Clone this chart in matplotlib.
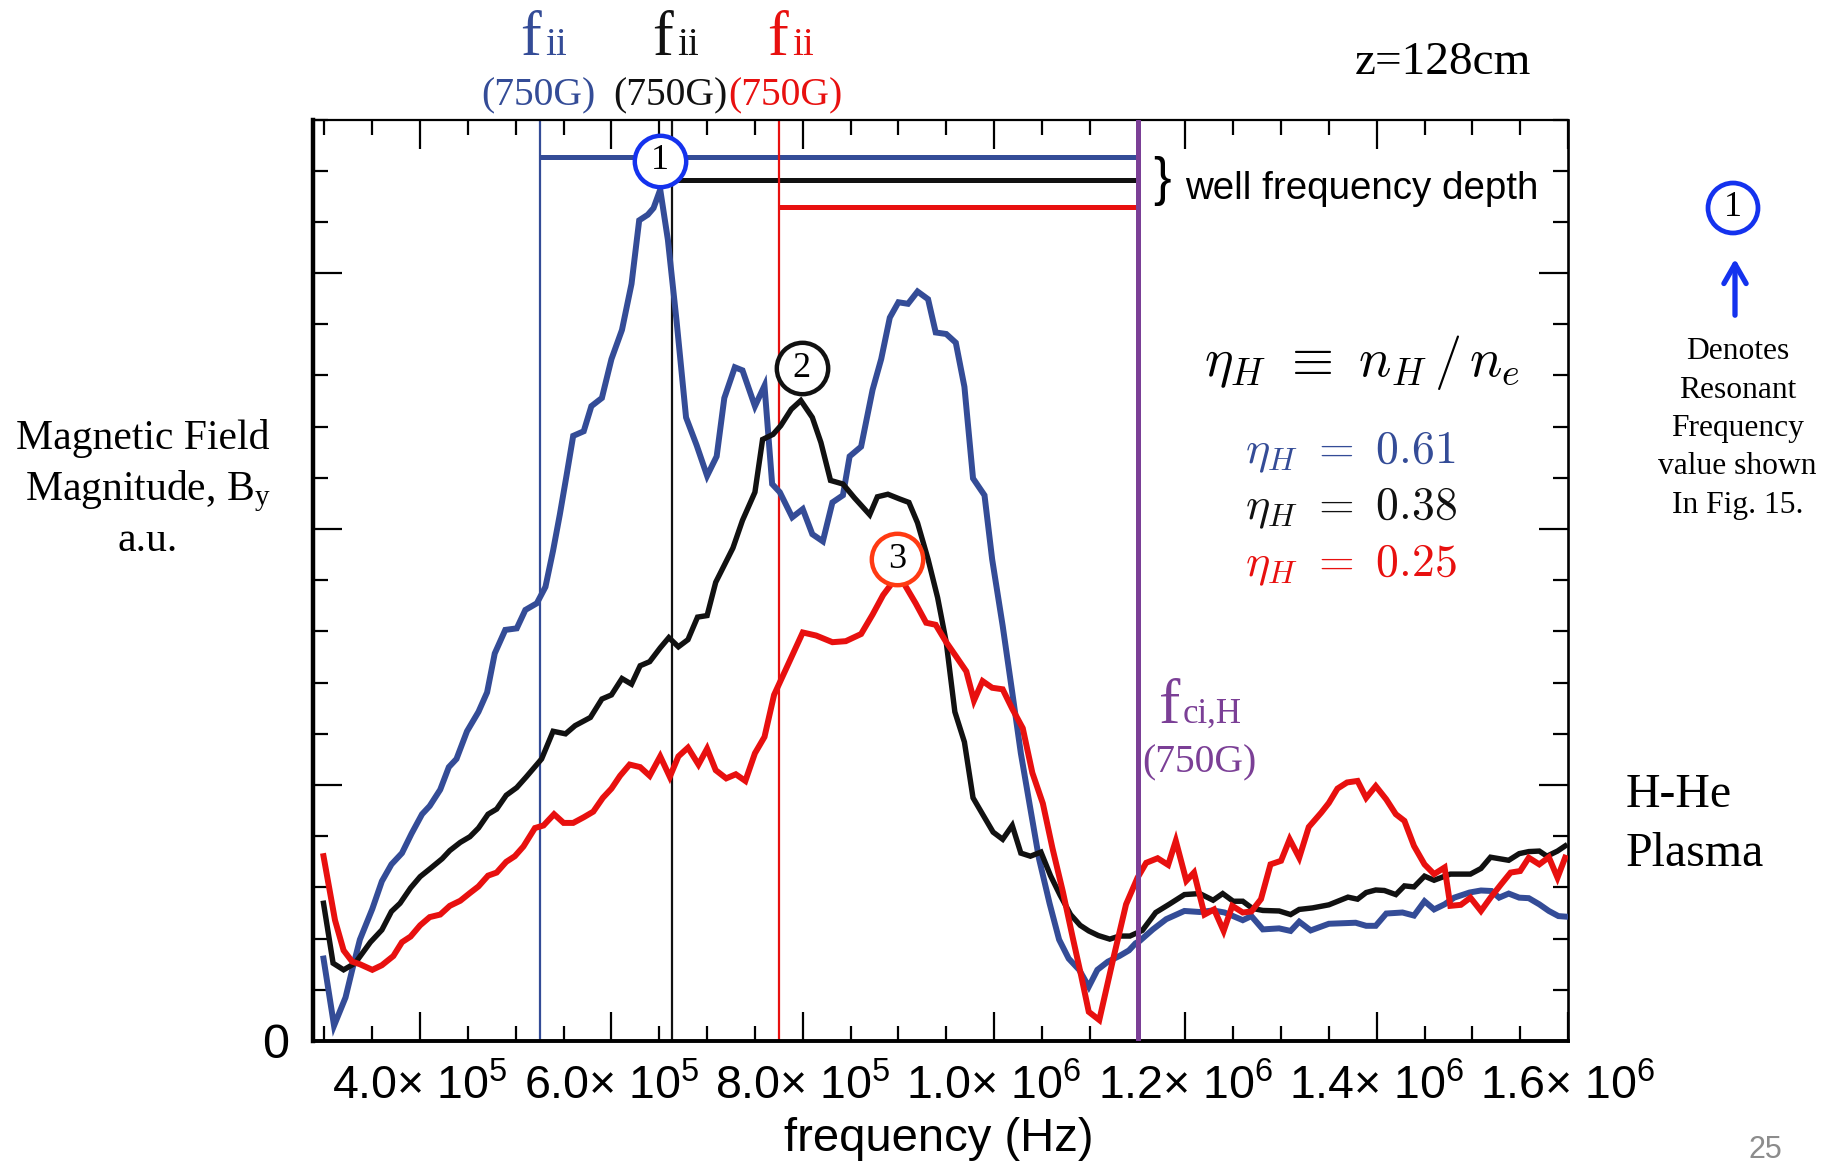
import numpy as np
import matplotlib
matplotlib.use('Agg')
from matplotlib import pyplot as plt
from matplotlib.ticker import MultipleLocator
from matplotlib.patches import Circle

# |B_y| spectra: (frequency in 1e5 Hz, amplitude in a.u.)
# eta_H = 0.61
blue_pts = [(2.99, 1.61), (3.10, 0.30), (3.22, 0.85), (3.29, 1.39), (3.37, 1.98), (3.50, 2.58),
            (3.60, 3.12), (3.70, 3.45), (3.81, 3.67), (3.91, 4.05), (4.02, 4.43), (4.10, 4.59),
            (4.21, 4.91), (4.30, 5.35), (4.38, 5.51), (4.49, 6.05), (4.61, 6.43), (4.70, 6.81),
            (4.78, 7.57), (4.89, 8.03), (5.01, 8.06), (5.10, 8.42), (5.22, 8.55), (5.31, 8.87),
            (5.39, 9.58), (5.46, 10.28), (5.53, 11.04), (5.60, 11.82), (5.71, 11.91), (5.79, 12.40),
            (5.90, 12.56), (6.00, 13.32), (6.11, 13.89), (6.21, 14.79), (6.29, 16.03), (6.38, 16.14),
            (6.44, 16.27), (6.51, 16.63), (6.59, 15.65), (6.68, 14.08), (6.78, 12.18), (6.89, 11.64),
            (7.00, 11.04), (7.10, 11.42), (7.18, 12.56), (7.29, 13.16), (7.37, 13.10), (7.50, 12.40),
            (7.60, 12.80), (7.68, 10.88), (7.76, 10.72), (7.89, 10.23), (8.00, 10.39), (8.10, 9.90),
            (8.21, 9.76), (8.31, 10.52), (8.42, 10.66), (8.49, 11.42), (8.61, 11.61), (8.73, 12.72),
            (8.82, 13.32), (8.91, 14.13), (9.00, 14.43), (9.10, 14.40), (9.20, 14.64), (9.31, 14.49),
            (9.39, 13.84), (9.50, 13.81), (9.60, 13.64), (9.69, 12.78), (9.78, 10.99), (9.90, 10.66),
            (9.98, 9.41), (10.09, 8.11), (10.19, 6.81), (10.28, 5.62), (10.37, 4.64), (10.47, 3.56),
            (10.58, 2.69), (10.68, 1.98), (10.78, 1.61), (10.89, 1.39), (10.99, 1.06), (11.08, 1.39),
            (11.19, 1.55), (11.31, 1.66), (11.41, 1.77), (11.48, 1.91), (11.52, 1.95), (11.66, 2.18),
            (11.80, 2.38), (11.99, 2.54), (12.15, 2.52), (12.29, 2.55), (12.41, 2.51), (12.60, 2.36),
            (12.69, 2.44), (12.81, 2.18), (12.98, 2.20), (13.10, 2.15), (13.19, 2.33), (13.31, 2.16),
            (13.50, 2.29), (13.78, 2.31), (13.89, 2.25), (13.99, 2.25), (14.10, 2.49), (14.27, 2.51),
            (14.39, 2.45), (14.50, 2.73), (14.60, 2.57), (14.71, 2.67), (14.81, 2.80), (14.97, 2.90),
            (15.09, 2.94), (15.20, 2.93), (15.28, 2.80), (15.38, 2.88), (15.49, 2.80), (15.59, 2.79),
            (15.70, 2.67), (15.80, 2.54), (15.90, 2.44), (15.97, 2.43)]

# eta_H = 0.38
black_pts = [(2.99, 2.69), (3.09, 1.52), (3.20, 1.39), (3.32, 1.52), (3.48, 1.93), (3.60, 2.17),
             (3.70, 2.53), (3.79, 2.69), (3.90, 2.99), (4.00, 3.21), (4.10, 3.36), (4.23, 3.56),
             (4.31, 3.72), (4.42, 3.88), (4.52, 3.99), (4.61, 4.16), (4.71, 4.43), (4.80, 4.53),
             (4.90, 4.80), (5.01, 4.95), (5.11, 5.16), (5.27, 5.51), (5.39, 6.05), (5.52, 6.00),
             (5.62, 6.16), (5.78, 6.32), (5.90, 6.68), (6.00, 6.76), (6.11, 7.08), (6.21, 6.97),
             (6.30, 7.33), (6.40, 7.41), (6.51, 7.68), (6.60, 7.88), (6.70, 7.70), (6.80, 7.84),
             (6.90, 8.28), (7.00, 8.31), (7.09, 8.96), (7.27, 9.63), (7.37, 10.17), (7.50, 10.72),
             (7.58, 11.75), (7.69, 11.85), (7.77, 12.02), (7.88, 12.34), (7.98, 12.51), (8.10, 12.18),
             (8.19, 11.69), (8.29, 10.95), (8.42, 10.88), (8.54, 10.61), (8.70, 10.28), (8.78, 10.63),
             (8.89, 10.68), (9.01, 10.59), (9.11, 10.52), (9.20, 10.12), (9.31, 9.41), (9.41, 8.66),
             (9.50, 7.79), (9.59, 6.43), (9.69, 5.84), (9.78, 4.75), (9.88, 4.43), (9.99, 4.08),
             (10.09, 3.94), (10.19, 4.21), (10.28, 3.67), (10.38, 3.61), (10.49, 3.69), (10.59, 3.23),
             (10.69, 2.85), (10.80, 2.47), (10.90, 2.26), (10.99, 2.15), (11.09, 2.06), (11.21, 1.99),
             (11.31, 2.05), (11.42, 2.05), (11.55, 2.16), (11.69, 2.51), (11.83, 2.67), (11.99, 2.86),
             (12.15, 2.88), (12.29, 2.75), (12.39, 2.88), (12.50, 2.73), (12.60, 2.73), (12.70, 2.59),
             (12.81, 2.55), (12.98, 2.54), (13.10, 2.47), (13.19, 2.57), (13.33, 2.60), (13.50, 2.66),
             (13.70, 2.81), (13.80, 2.77), (13.89, 2.90), (13.99, 2.95), (14.08, 2.94), (14.20, 2.86),
             (14.29, 3.03), (14.39, 3.01), (14.50, 3.22), (14.60, 3.14), (14.77, 3.26), (14.98, 3.26),
             (15.09, 3.37), (15.19, 3.59), (15.38, 3.53), (15.49, 3.66), (15.59, 3.70), (15.70, 3.71),
             (15.78, 3.61), (15.89, 3.71), (15.97, 3.81)]

# eta_H = 0.25
red_pts = [(2.99, 3.61), (3.11, 2.36), (3.20, 1.77), (3.29, 1.55), (3.37, 1.50), (3.50, 1.39),
           (3.60, 1.48), (3.72, 1.66), (3.81, 1.93), (3.90, 2.04), (4.00, 2.26), (4.10, 2.42),
           (4.21, 2.47), (4.31, 2.64), (4.42, 2.74), (4.52, 2.89), (4.61, 3.02), (4.71, 3.23),
           (4.80, 3.29), (4.90, 3.50), (4.99, 3.61), (5.08, 3.80), (5.20, 4.16), (5.29, 4.21),
           (5.40, 4.43), (5.50, 4.26), (5.60, 4.26), (5.71, 4.37), (5.81, 4.48), (5.91, 4.75),
           (6.00, 4.93), (6.09, 5.18), (6.19, 5.40), (6.30, 5.35), (6.40, 5.18), (6.51, 5.56),
           (6.61, 5.16), (6.70, 5.56), (6.80, 5.73), (6.91, 5.40), (7.00, 5.71), (7.09, 5.29),
           (7.20, 5.13), (7.30, 5.21), (7.40, 5.08), (7.50, 5.62), (7.60, 5.94), (7.70, 6.76),
           (7.86, 7.41), (8.00, 7.98), (8.14, 7.92), (8.31, 7.79), (8.45, 7.81), (8.61, 7.95),
           (8.73, 8.33), (8.84, 8.71), (8.94, 8.96), (9.06, 8.93), (9.18, 8.55), (9.29, 8.17),
           (9.39, 8.13), (9.50, 7.79), (9.60, 7.52), (9.71, 7.22), (9.79, 6.65), (9.88, 7.03),
           (9.98, 6.90), (10.09, 6.87), (10.19, 6.49), (10.30, 6.11), (10.40, 5.24), (10.51, 4.64),
           (10.61, 3.77), (10.72, 2.91), (10.82, 2.04), (10.91, 1.28), (10.99, 0.57), (11.10, 0.41),
           (11.24, 1.56), (11.38, 2.67), (11.50, 3.19), (11.59, 3.48), (11.71, 3.57), (11.82, 3.44),
           (11.90, 3.91), (12.01, 3.13), (12.09, 3.29), (12.20, 2.47), (12.30, 2.57), (12.40, 2.15),
           (12.49, 2.64), (12.60, 2.51), (12.69, 2.53), (12.79, 2.77), (12.89, 3.45), (13.00, 3.52),
           (13.09, 3.94), (13.19, 3.58), (13.29, 4.18), (13.42, 4.46), (13.50, 4.65), (13.59, 4.93),
           (13.69, 5.05), (13.80, 5.08), (13.89, 4.75), (13.99, 4.98), (14.10, 4.72), (14.20, 4.43),
           (14.29, 4.30), (14.39, 3.81), (14.50, 3.45), (14.60, 3.26), (14.71, 3.39), (14.77, 2.64),
           (14.88, 2.66), (14.98, 2.80), (15.09, 2.54), (15.19, 2.80), (15.30, 3.06), (15.40, 3.29),
           (15.50, 3.32), (15.59, 3.58), (15.70, 3.45), (15.80, 3.59), (15.89, 3.19), (15.97, 3.58)]

eta_vals = ['0.61', '0.38', '0.25']
fii_freq = [5.25e5, 6.63e5, 7.755e5]     # ion-ion hybrid freq for each mix, 750 G
fci_freq = 1.15e6                         # f_ci,H at 750 G
well_level = [17.27, 16.82, 16.29]        # the "well frequency depth" bars

peak_labels = ['1', '2', '3']
peak_freq = [6.51e5, 7.99e5, 8.99e5]
peak_amp = [17.19, 13.14, 9.41]

xtick_vals = [4e5, 6e5, 8e5, 1.0e6, 1.2e6, 1.4e6, 1.6e6]
xtick_text = [r'4.0× 10$\mathregular{^5}$', r'6.0× 10$\mathregular{^5}$', r'8.0× 10$\mathregular{^5}$',
              r'1.0× 10$\mathregular{^6}$', r'1.2× 10$\mathregular{^6}$', r'1.4× 10$\mathregular{^6}$',
              r'1.6× 10$\mathregular{^6}$']

BLUE = '#344c97'
BLACK = '#111111'
RED = '#e8100f'
PURPLE = '#7b3f96'
RING_BLUE = '#1432ee'
RING_RED = '#ff3a12'
SERIF = 'Liberation Serif'
SANS = 'Liberation Sans'

W, H = 1839, 1162
fig = plt.figure(figsize=(W / 100, H / 100), dpi=100)
ax = fig.add_axes([313 / W, 1 - 1041 / H, (1568 - 313) / W, (1041 - 119.5) / H])


def fpos(x, y):
    # picture pixels (from top left) -> figure fraction
    return x / W, 1 - y / H


series = [(blue_pts, BLUE, 4.3), (black_pts, BLACK, 3.9), (red_pts, RED, 4.3)]
line_cols = [BLUE, BLACK, RED]

for i in range(3):
    ax.axvline(fii_freq[i], color=line_cols[i], lw=1.6, zorder=1)
    ax.hlines(well_level[i], fii_freq[i], fci_freq, color=line_cols[i], lw=3.6, zorder=1)

for pts, col, lw in series:
    arr = np.array(pts)
    ax.plot(arr[:, 0] * 1e5, arr[:, 1], color=col, lw=lw, solid_joinstyle='miter', zorder=3)

ax.axvline(fci_freq, color=PURPLE, lw=3.6, zorder=4)

ring_cols = [RING_BLUE, BLACK, RING_RED]
for i in range(3):
    ax.plot(peak_freq[i], peak_amp[i], 'o', ms=37, mfc='white', mec=ring_cols[i], mew=3.2, zorder=6)
    ax.text(peak_freq[i], peak_amp[i], peak_labels[i], ha='center', va='center',
            family=SERIF, fontsize=26, zorder=7)

ax.set_xlim(2.88e5, 1.6e6)
ax.set_ylim(0, 18)
ax.set_xticks(xtick_vals)
ax.set_xticklabels(xtick_text, family=SANS, fontsize=33.5)
ax.xaxis.set_minor_locator(MultipleLocator(5e4))
ax.set_yticks([0, 5, 10, 15])
ax.set_yticklabels(['0', '', '', ''], family=SANS, fontsize=35)
ax.yaxis.set_minor_locator(MultipleLocator(1))
ax.tick_params(which='both', direction='in', top=True, right=True, width=1.6, color='black')
ax.tick_params(which='major', length=21)
ax.tick_params(which='minor', length=11)
ax.tick_params(axis='x', pad=17)
ax.tick_params(axis='y', pad=17)
ax.spines['left'].set_linewidth(3.2)
ax.spines['bottom'].set_linewidth(2.8)
ax.spines['top'].set_linewidth(1.6)
ax.spines['right'].set_linewidth(1.9)

ax.set_xlabel('frequency (Hz)', family=SANS, fontsize=34)
ax.xaxis.set_label_coords((938.5 - 313) / 1255, (1041 - 1117) / 921.5)

# labels over the ion-ion hybrid lines
f_left = [520, 652, 767]
for i in range(3):
    fig.text(*fpos(f_left[i], 55), 'f', color=line_cols[i], family=SERIF, fontsize=45,
             ha='left', va='baseline')
    fig.text(*fpos(f_left[i] + 25, 55), 'ii', color=line_cols[i], family=SERIF, fontsize=28,
             ha='left', va='baseline')
    fig.text(*fpos(f_left[i] + 18, 105), '(750G)', color=line_cols[i], family=SERIF,
             fontsize=28.5, ha='center', va='baseline')

fig.text(*fpos(1159, 723), 'f', color=PURPLE, family=SERIF, fontsize=46, ha='left', va='baseline')
fig.text(*fpos(1183, 723), 'ci,H', color=PURPLE, family=SERIF, fontsize=25, ha='left', va='baseline')
fig.text(*fpos(1142, 772), '(750G)', color=PURPLE, family=SERIF, fontsize=28.5, ha='left', va='baseline')

fig.text(*fpos(1355, 74), 'z=128cm', family=SERIF, fontsize=34, ha='left', va='baseline')

fig.text(*fpos(1162, 181), '}', family=SANS, fontsize=38, ha='center', va='center')
fig.text(*fpos(1185, 199), 'well frequency depth', family=SANS, fontsize=27.7, ha='left', va='baseline')

fig.text(*fpos(1362, 362), r'$\eta_H\ \equiv\ n_H\,/\,n_e$', fontsize=39, math_fontfamily='cm',
         ha='center', va='center')
eta_y = [452, 508, 565]
for i in range(3):
    fig.text(*fpos(1245, eta_y[i]), r'$\eta_H\ =\ ' + eta_vals[i] + '$', color=line_cols[i],
             fontsize=33, math_fontfamily='cm', ha='left', va='center')

# y label
fig.text(*fpos(142.5, 449), 'Magnetic Field', family=SERIF, fontsize=30, ha='center', va='baseline')
fig.text(*fpos(148, 500), r'Magnitude, B$\mathregular{_y}$', family=SERIF, fontsize=30,
         ha='center', va='baseline')
fig.text(*fpos(148, 551), 'a.u.', family=SERIF, fontsize=30, ha='center', va='baseline')

fig.text(*fpos(1626, 807), 'H-He', family=SERIF, fontsize=34.5, ha='left', va='baseline')
fig.text(*fpos(1626, 866), 'Plasma', family=SERIF, fontsize=34.5, ha='left', va='baseline')

# side note: ring + arrow
fig.add_artist(Circle((17.33, (H - 208) / 100), 0.25, transform=fig.dpi_scale_trans,
                      fill=False, ec=RING_BLUE, lw=3.4))
fig.text(*fpos(1733, 208), '1', family=SERIF, fontsize=26, ha='center', va='center')
ax.annotate('', xy=(1735, H - 256), xytext=(1735, H - 318), xycoords='figure pixels',
            textcoords='figure pixels',
            arrowprops=dict(arrowstyle='->,head_length=1.4,head_width=0.8', lw=3.8, color=RING_BLUE))
note = ['Denotes', 'Resonant', 'Frequency', 'value shown', 'In Fig. 15.']
for i, line in enumerate(note):
    fig.text(*fpos(1737.5, 359 + 38.5 * i), line, family=SERIF, fontsize=22.7, ha='center', va='baseline')

fig.text(*fpos(1765, 1158), '25', family=SANS, fontsize=22, color='#8c8c8c', ha='center', va='baseline')

fig.savefig('out.png', dpi=100)
